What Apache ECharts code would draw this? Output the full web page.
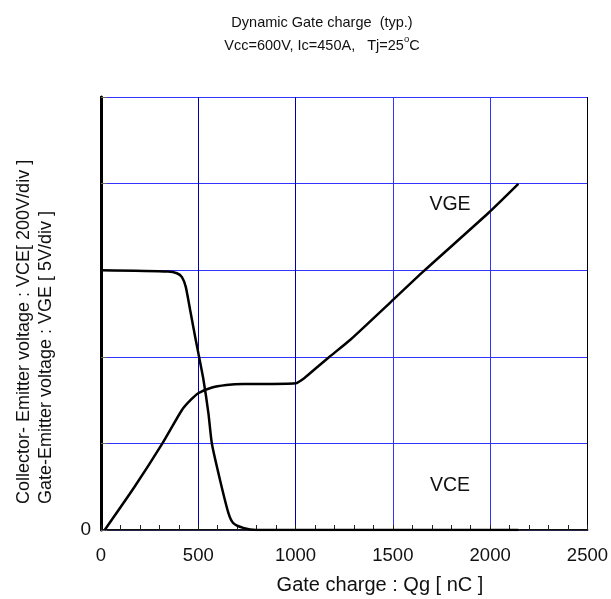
<!DOCTYPE html>
<html>
<head>
<meta charset="utf-8">
<script src="https://cdn.jsdelivr.net/npm/echarts@6/dist/echarts.min.js"></script>
<style>html,body{margin:0;padding:0;background:#fff}#c{width:611px;height:599px}</style>
</head>
<body>
<div id="c"></div>
<script>
// Gate charge axis ticks (nC)
const xTicks = [0, 500, 1000, 1500, 2000, 2500];
// VCE curve (Qg nC, VCE V)
const vceQ = [0, 344, 390, 416, 436, 461, 487, 507, 527, 552, 570, 612, 655, 680, 731, 797, 2145];
const vceV = [600, 597, 593, 584, 561, 501, 439, 393, 346, 270, 199, 115, 39, 16, 5, 0, 0];
// VGE curve (Qg nC, VGE V)
const vgeQ = [19, 170, 314, 416, 461, 502, 563, 644, 731, 817, 1000, 1046, 1112, 1173, 1280, 1489, 1657, 1991, 2145];
const vgeV = [0, 2.45, 4.97, 6.93, 7.51, 7.91, 8.20, 8.37, 8.43, 8.43, 8.47, 8.78, 9.41, 9.99, 10.97, 13.16, 14.93, 18.30, 19.98];

const vceData = vceQ.map((q, i) => [q, vceV[i]]);
const vgeData = vgeQ.map((q, i) => [q, vgeV[i]]);

const FONT = 'Liberation Sans, Arial, sans-serif';
const chart = echarts.init(document.getElementById('c'), null, {renderer: 'canvas'});
chart.setOption({
  animation: false,
  backgroundColor: '#fff',
  textStyle: {fontFamily: FONT},
  title: [{
    text: 'Dynamic Gate charge  (typ.)\nVcc=600V, Ic=450A,   Tj=25{sup|o}C',
    left: 317, top: 6, textAlign: 'center',
    textStyle: {
      fontFamily: FONT, fontSize: 14.5, fontWeight: 'normal', color: '#111', lineHeight: 23,
      rich: {sup: {fontFamily: FONT, fontSize: 9.5, verticalAlign: 'top', padding: [0,0,8,0], color: '#111'}}
    }
  }],
  grid: {left: 101, right: 21, top: 97, bottom: 69, containLabel: false},
  xAxis: [{
    type: 'value', min: 0, max: 2500, interval: 500,
    axisLine: {show: true, lineStyle: {color: '#111', width: 2}},
    axisTick: {show: true, inside: true, length: 5, lineStyle: {color: '#222', width: 1}},
    minorTick: {show: true, splitNumber: 5, length: 5, lineStyle: {color: '#222', width: 1}},
    axisLabel: {fontFamily: FONT, fontSize: 18.5, color: '#111', margin: 16,
      formatter: v => xTicks.includes(v) ? String(v) : ''},
    splitLine: {show: true, lineStyle: {color: ['#0000a8', '#0000a8', '#0000a8', '#3333ff', '#3333ff', '#000'], width: 1}}
  }, {
    type: 'value', min: 0, max: 2500, position: 'top',
    axisLine: {show: true, lineStyle: {color: '#222244', width: 1}},
    axisTick: {show: false}, axisLabel: {show: false}, splitLine: {show: false}
  }],
  yAxis: [{
    type: 'value', min: 0, max: 1000, interval: 200,
    axisLine: {show: true, lineStyle: {color: '#222', width: 2}},
    axisTick: {show: true, inside: true, length: 6, lineStyle: {color: '#666', width: 1}},
    axisLabel: {fontFamily: FONT, fontSize: 19, color: '#111', margin: 10,
      formatter: v => v === 0 ? '0' : ''},
    splitLine: {show: true, lineStyle: {color: '#3333ff', width: 1}}
  }, {
    type: 'value', min: 0, max: 25, interval: 5, position: 'right',
    axisLine: {show: true, lineStyle: {color: '#000', width: 3}},
    axisTick: {show: false}, axisLabel: {show: false}, splitLine: {show: false}
  }],
  graphic: [
    {type: 'text', x: 24, y: 504, rotation: Math.PI / 2,
      style: {text: 'Collector- Emitter voltage : VCE[ 200V/div ]', fill: '#111', font: '18px ' + FONT, textAlign: 'left', textVerticalAlign: 'middle'}},
    {type: 'text', x: 46, y: 504, rotation: Math.PI / 2,
      style: {text: 'Gate-Emitter voltage : VGE [ 5V/div ]', fill: '#111', font: '18px ' + FONT, textAlign: 'left', textVerticalAlign: 'middle'}},
    {type: 'text', x: 380, y: 585,
      style: {text: 'Gate charge : Qg [ nC ]', fill: '#111', font: '20px ' + FONT, textAlign: 'center', textVerticalAlign: 'middle'}},
    {type: 'text', x: 450, y: 205,
      style: {text: 'VGE', fill: '#111', font: '19.5px ' + FONT, textAlign: 'center', textVerticalAlign: 'middle'}},
    {type: 'text', x: 450, y: 486,
      style: {text: 'VCE', fill: '#111', font: '19.5px ' + FONT, textAlign: 'center', textVerticalAlign: 'middle'}}
  ],
  series: [{
    name: 'VCE', type: 'line', xAxisIndex: 0, yAxisIndex: 0, data: vceData,
    showSymbol: false, symbol: 'none', smooth: 0.2,
    lineStyle: {color: '#000', width: 2.5}
  }, {
    name: 'VGE', type: 'line', xAxisIndex: 0, yAxisIndex: 1, data: vgeData,
    showSymbol: false, symbol: 'none', smooth: 0.2,
    lineStyle: {color: '#000', width: 2.5}
  }]
});
</script>
</body>
</html>
